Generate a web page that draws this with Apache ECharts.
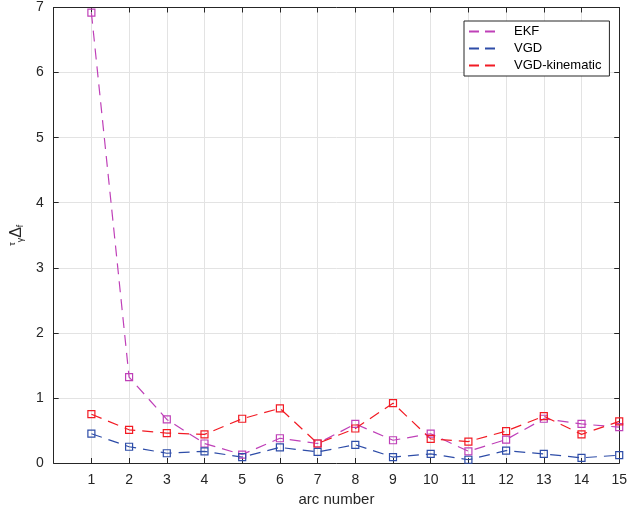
<!DOCTYPE html>
<html><head><meta charset="utf-8">
<script src="https://cdn.jsdelivr.net/npm/echarts@6/dist/echarts.min.js"></script>
<style>html,body{margin:0;padding:0;background:#fff}#c{width:630px;height:512px}</style>
</head><body><div id="c"></div>
<script>
const arcNumbers = [1,2,3,4,5,6,7,8,9,10,11,12,13,14,15];
const ekf = [6.92,1.32,0.67,0.30,0.13,0.38,0.30,0.60,0.35,0.45,0.18,0.36,0.68,0.60,0.55];
const vgd = [0.45,0.25,0.15,0.18,0.09,0.24,0.17,0.28,0.09,0.14,0.05,0.19,0.14,0.08,0.12];
const vgdKin = [0.75,0.51,0.46,0.44,0.68,0.84,0.30,0.53,0.92,0.37,0.33,0.49,0.72,0.44,0.64];
const seriesNames = ['EKF','VGD','VGD-kinematic'];
const colors = ['#BF40B8','#2E4DA8','#F21B24'];

const font = 'Liberation Sans, Arial, Helvetica, sans-serif';
const axisCol = '#262626';
function mk(name, vals, col){
  return {
    name, type:'line', data: arcNumbers.map((x,i)=>[x, vals[i]]),
    symbol:'rect', symbolSize:7, showSymbol:true,
    lineStyle:{color:col, width:1.2, type:[11,7]},
    itemStyle:{color:'rgba(255,255,255,0)', borderColor:col, borderWidth:1.2},
    emphasis:{disabled:true}, animation:false, z:3
  };
}
const chart = echarts.init(document.getElementById('c'), null, {renderer:'canvas'});
const baseX = {type:'value', min:0, max:15, interval:1};
const baseY = {type:'value', min:0, max:7, interval:1};
const line = {show:true, onZero:false, lineStyle:{color:axisCol, width:1}};
const tick = {show:true, inside:true, length:5, lineStyle:{color:axisCol}};
chart.setOption({
  animation:false,
  grid:{left:43, right:9, top:7.5, bottom:49, containLabel:false},
  xAxis:[
    Object.assign({}, baseX, {
      position:'bottom',
      name:'arc number', nameLocation:'middle', nameGap:27,
      nameTextStyle:{fontFamily:font, fontSize:15, color:axisCol},
      axisLine:line, axisTick:tick,
      axisLabel:{fontFamily:font, fontSize:14, color:axisCol, margin:10,
        formatter:v=> v===0 ? '' : String(v)},
      splitLine:{show:true, lineStyle:{color:'#e3e3e3', width:1}}
    }),
    Object.assign({}, baseX, {
      position:'top',
      axisLine:line, axisTick:tick,
      axisLabel:{show:false}, splitLine:{show:false}
    })
  ],
  yAxis:[
    Object.assign({}, baseY, {
      position:'left',
      name:'{sup|τ}{sub|γ}{m|Δ}{sub|f}', nameLocation:'middle', nameGap:22, nameRotate:90,
      nameTextStyle:{fontFamily:font, color:axisCol,
        rich:{
          m:{fontSize:16, fontFamily:font, color:axisCol},
          sup:{fontSize:9, fontFamily:font, color:axisCol, verticalAlign:'top', padding:[0,0,8,0]},
          sub:{fontSize:9, fontFamily:font, color:axisCol, verticalAlign:'bottom', padding:[8,0,0,0]}
        }},
      axisLine:line, axisTick:tick,
      axisLabel:{fontFamily:font, fontSize:14, color:axisCol, margin:10},
      splitLine:{show:true, lineStyle:{color:'#e3e3e3', width:1}}
    }),
    Object.assign({}, baseY, {
      position:'right',
      axisLine:line, axisTick:tick,
      axisLabel:{show:false}, splitLine:{show:false}
    })
  ],
  legend:{
    left:464, top:21, orient:'vertical',
    backgroundColor:'#fff', borderColor:axisCol, borderWidth:1,
    padding:[4,8,4,5], itemGap:4, itemWidth:26, itemHeight:2,
    textStyle:{fontFamily:font, fontSize:13, color:'#000', padding:[0,0,0,14]},
    data: seriesNames.map((n,i)=>({name:n, icon:'path://M0,0h10v2h-10z M16,0h10v2h-10z', itemStyle:{color:colors[i], borderWidth:0}})),
    selectedMode:false
  },
  series:[
    mk(seriesNames[0], ekf, colors[0]),
    mk(seriesNames[1], vgd, colors[1]),
    mk(seriesNames[2], vgdKin, colors[2])
  ]
});
</script></body></html>
